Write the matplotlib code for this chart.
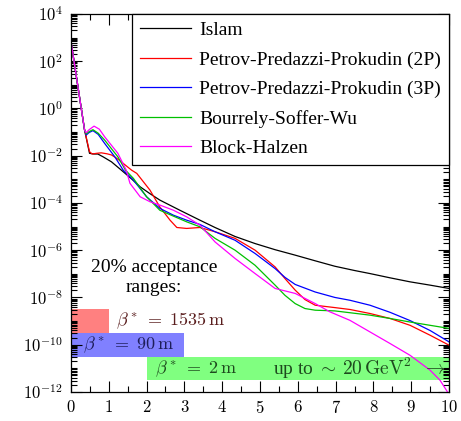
"""Elastic pp dσ/dt model predictions vs |t| with TOTEM acceptance bands."""

import matplotlib

matplotlib.use("Agg")
import matplotlib.pyplot as plt
import numpy as np
from matplotlib.ticker import FixedLocator, LogLocator, MultipleLocator, NullFormatter

plt.rcParams["font.family"] = ["Liberation Serif", "DejaVu Serif"]
plt.rcParams["mathtext.fontset"] = "cm"

# |t| in GeV^2, curves given as log10(dσ/dt)
islam_t = [0, 0.36, 0.45, 0.49, 0.6, 0.71, 0.85, 1.07, 1.33, 1.6, 1.83, 2.1, 2.35, 2.88,
           3.41, 3.81, 4.34, 4.87, 5.4, 5.93, 6.46, 6.98, 7.5, 7.91, 8.44, 8.97, 9.5, 10.0]
islam_log = [2.83, -0.92, -1.6, -1.9, -1.93, -1.93, -2.05, -2.26, -2.61, -2.98, -3.32, -3.62,
             -3.88, -4.31, -4.73, -5.04, -5.42, -5.72, -5.98, -6.21, -6.45, -6.68, -6.86,
             -6.99, -7.17, -7.34, -7.48, -7.62]

ppp2_t = [0, 0.36, 0.40, 0.49, 0.56, 0.68, 0.8, 0.95, 1.07, 1.2, 1.33, 1.6, 1.74, 2.09, 2.35,
          2.62, 2.8, 3.06, 3.41, 3.81, 4.34, 4.87, 5.4, 5.66, 5.93, 6.19, 6.46, 6.98, 7.38,
          7.91, 8.44, 8.97, 9.5, 10.0]
ppp2_log = [2.83, -0.92, -1.2, -1.83, -1.93, -1.9, -1.88, -1.92, -1.97, -2.1, -2.26, -2.61,
            -2.75, -3.46, -4.17, -4.73, -5.04, -5.08, -5.04, -5.22, -5.50, -6.0, -6.71, -7.2,
            -7.69, -8.09, -8.33, -8.43, -8.51, -8.68, -8.89, -9.18, -9.6, -10.02]

ppp3_t = [0, 0.36, 0.40, 0.48, 0.58, 0.72, 0.89, 1.16, 1.38, 1.65, 2.0, 2.35, 2.71, 3.06,
          3.41, 3.81, 4.34, 4.87, 5.4, 5.66, 5.93, 6.46, 6.98, 7.38, 7.91, 8.44, 8.97, 9.5,
          10.0]
ppp3_log = [2.83, -0.92, -1.13, -1.02, -0.94, -1.1, -1.48, -2.05, -2.61, -3.03, -3.74, -4.23,
            -4.52, -4.73, -4.91, -5.22, -5.58, -6.14, -6.78, -7.15, -7.45, -7.77, -8.0, -8.12,
            -8.33, -8.63, -8.98, -9.4, -9.88]

bsw_t = [0, 0.36, 0.40, 0.48, 0.58, 0.72, 0.89, 1.24, 1.44, 1.65, 2.0, 2.35, 2.71, 3.06, 3.41,
         3.81, 4.34, 4.87, 5.4, 5.66, 5.93, 6.19, 6.46, 6.98, 7.91, 8.44, 8.97, 9.5, 10.0]
bsw_log = [2.83, -0.92, -1.08, -0.98, -0.9, -1.05, -1.34, -2.05, -2.61, -2.96, -3.74, -4.31,
           -4.56, -4.80, -5.01, -5.5, -6.0, -6.64, -7.48, -7.91, -8.26, -8.47, -8.54, -8.57,
           -8.75, -8.89, -9.04, -9.18, -9.31]

bh_t = [0, 0.36, 0.40, 0.48, 0.61, 0.75, 0.89, 1.24, 1.46, 1.56, 1.83, 2.09, 2.35, 2.71, 3.06,
        3.41, 3.81, 4.34, 4.87, 5.4, 5.93, 6.46, 6.85, 7.38, 7.91, 8.44, 8.97, 9.5, 9.76, 10.0]
bh_log = [2.83, -0.92, -1.03, -0.9, -0.75, -0.88, -1.2, -1.9, -2.61, -3.17, -3.74, -3.95,
          -4.09, -4.31, -4.59, -4.94, -5.65, -6.35, -6.99, -7.62, -7.83, -8.26, -8.61, -8.97,
          -9.46, -9.95, -10.45, -11.08, -11.5, -12.1]

model_names = ["Islam", "Petrov-Predazzi-Prokudin (2P)", "Petrov-Predazzi-Prokudin (3P)",
               "Bourrely-Soffer-Wu", "Block-Halzen"]
model_colors = ["black", "#ff0000", "#0000ff", "#00c000", "#ff00ff"]

# acceptance bands: (t_min, t_max, log10 lower, log10 upper)
band_tmin = [0.0, 0.0, 2.0]
band_tmax = [1.0, 3.0, 10.0]
band_lo = [-9.5, -10.5, -11.5]
band_hi = [-8.5, -9.5, -10.5]
band_colors = ["#ff8080", "#8080ff", "#80ff80"]
band_labels = [r"$\beta^*\;=\;1535\,\mathrm{m}$", r"$\beta^*\;=\;90\,\mathrm{m}$",
               r"$\beta^*\;=\;2\,\mathrm{m}$"]
band_text_colors = ["#5a1e1e", "#1e1e5a", "#1e4a1e"]
band_text_t = [1.2, 0.33, 2.22]

fig = plt.figure(figsize=(4.61, 4.21), dpi=100)
ax = fig.add_axes([0.154, 0.069, 0.820, 0.898])

for lo, hi, t0, t1, c in zip(band_lo, band_hi, band_tmin, band_tmax, band_colors):
    ax.fill_between([t0, t1], 10.0 ** lo, 10.0 ** hi, color=c, lw=0, zorder=1)

for t, lbl, c, lo, hi in zip(band_text_t, band_labels, band_text_colors, band_lo, band_hi):
    ax.text(t, 10.0 ** ((lo + hi) / 2), lbl, color=c, fontsize=13, va="center", ha="left",
            zorder=3)
ax.text(9.9, 10.0 ** ((band_lo[2] + band_hi[2]) / 2),
        r"up to $\sim\,20\,\mathrm{GeV}^2$  $\rightarrow$", color=band_text_colors[2],
        fontsize=14, va="center", ha="right", zorder=3)
ax.text(2.2, 10.0 ** -7.15, "20% acceptance\nranges:", fontsize=14, ha="center",
        va="center", linespacing=1.2, zorder=3)

series = [(islam_t, islam_log), (ppp2_t, ppp2_log), (ppp3_t, ppp3_log), (bsw_t, bsw_log),
          (bh_t, bh_log)]
for (t, lg), name, c in zip(series, model_names, model_colors):
    ax.plot(t, 10.0 ** np.array(lg), color=c, lw=0.9, label=name, zorder=2)

ax.set_yscale("log")
ax.set_xlim(0, 10)
ax.set_ylim(1e-12, 1e4)

ax.xaxis.set_major_locator(MultipleLocator(1))
ax.xaxis.set_minor_locator(MultipleLocator(0.5))
ax.xaxis.set_major_formatter(plt.FuncFormatter(lambda v, p: f"${v:.0f}$"))

ydec = np.arange(-12, 5, 2)
ax.yaxis.set_major_locator(FixedLocator(10.0 ** ydec))
ax.yaxis.set_major_formatter(plt.FuncFormatter(lambda v, p: f"$10^{{{np.log10(v):.0f}}}$"))
ax.yaxis.set_minor_locator(LogLocator(base=10, subs=np.arange(1, 10), numticks=100))
ax.yaxis.set_minor_formatter(NullFormatter())

ax.tick_params(which="both", direction="in", top=True, right=True, width=0.8)
ax.tick_params(which="major", length=8, labelsize=12, pad=6)
ax.tick_params(which="minor", length=4)
for s in ax.spines.values():
    s.set_linewidth(0.9)

leg = ax.legend(loc="upper right", borderaxespad=0, fancybox=False, framealpha=1,
                edgecolor="black", fontsize=14, handlelength=2.6, labelspacing=0.6,
                borderpad=0.4, handletextpad=0.45)
leg.get_frame().set_linewidth(0.9)
leg.set_zorder(5)

fig.savefig("out.png", dpi=100)
